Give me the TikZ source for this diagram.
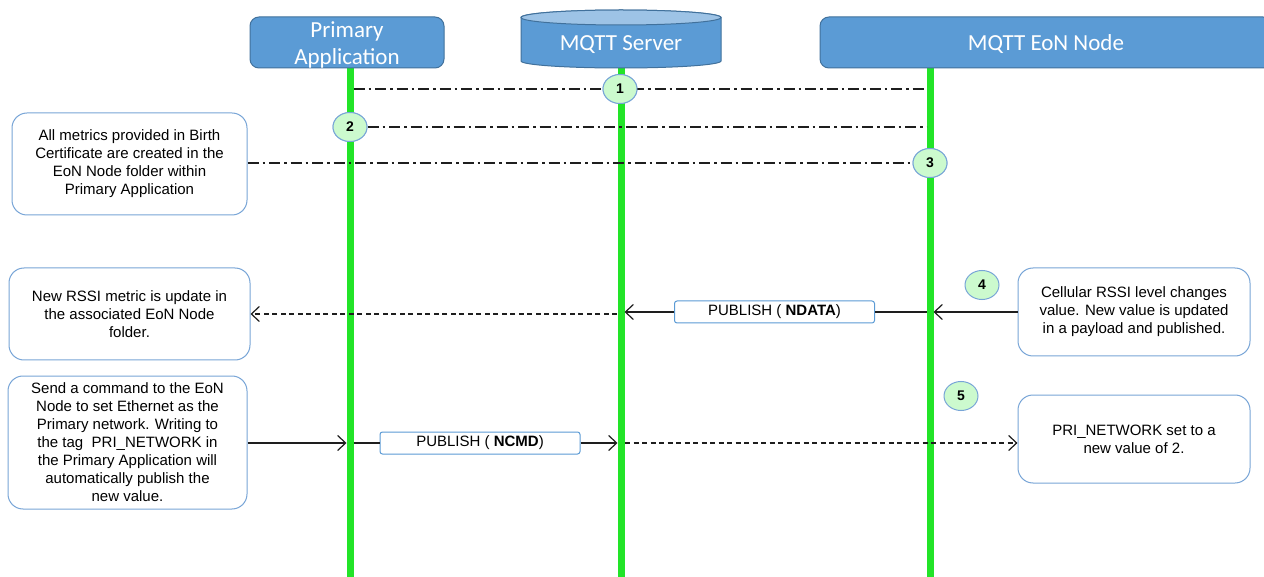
\documentclass[tikz,border=0pt]{standalone}
\usepackage{fontspec}
\setmainfont{Liberation Sans}
\newfontfamily\hdrfont{Carlito}
\usetikzlibrary{arrows.meta,shapes.geometric,calc}

\definecolor{hdrblue}{RGB}{91,155,213}
\definecolor{hdredge}{RGB}{65,113,156}
\definecolor{hdrtop}{RGB}{157,195,230}
\definecolor{lifegreen}{RGB}{34,228,40}
\definecolor{noteedge}{RGB}{120,165,215}
\definecolor{stepfill}{RGB}{204,250,206}
\definecolor{ink}{RGB}{30,30,30}

\begin{document}
\begin{tikzpicture}[x=1pt,y=-1pt,
  header/.style={draw=hdredge, line width=1pt, fill=hdrblue, rounded corners=9pt,
    text=white, font=\hdrfont\fontsize{23}{27}\selectfont, align=center, inner sep=0pt},
  note/.style={draw=noteedge, line width=1pt, fill=white, rounded corners=15pt,
    align=center, font=\fontsize{15}{18}\selectfont, inner sep=0pt},
  msg/.style={draw=hdrblue, line width=1pt, fill=white, rounded corners=2.5pt,
    font=\fontsize{15}{18}\selectfont, inner sep=0pt, minimum width=200pt, minimum height=22pt},
  stepmark/.style={ellipse, draw=noteedge, line width=1pt, fill=stepfill,
    minimum width=34pt, minimum height=29pt, inner sep=0pt,
    font=\bfseries\fontsize{14}{14}\selectfont},
  life/.style={draw=lifegreen, line width=7pt},
  sync/.style={draw=ink, line width=1.2pt, dash pattern=on 11pt off 4pt on 2.5pt off 4pt},
  plain/.style={draw=ink, line width=1.2pt},
  call/.style={draw=ink, line width=1.2pt, -{Straight Barb[length=8pt,width=15pt]}},
  reply/.style={draw=ink, line width=1.2pt, dash pattern=on 5pt off 3.5pt,
    -{Straight Barb[length=8pt,width=15pt]}},
]
\fill[white] (0,0) rectangle (1264,577);
\useasboundingbox (0,0) rectangle (1264,577);

% lifelines
\coordinate (paTop) at (350,68);  \coordinate (paBot) at (350,577);
\coordinate (srvTop) at (621,68); \coordinate (srvBot) at (621,577);
\coordinate (eonTop) at (930,68); \coordinate (eonBot) at (930,577);
\draw[life] (paTop) -- (paBot);
\draw[life] (srvTop) -- (srvBot);
\draw[life] (eonTop) -- (eonBot);

% participants
\path[draw=hdredge, line width=1pt, fill=hdrblue, rounded corners=9pt]
  (250,17) rectangle (444,68);
\node[text=white, font=\hdrfont\fontsize{23}{27}\selectfont, align=center] (pa) at (347,45) {Primary\\Application};
\path[draw=hdredge, line width=1pt, fill=hdrblue, rounded corners=9pt]
  (820,17) rectangle (1272,68);
\node[text=white, font=\hdrfont\fontsize{23}{27}\selectfont] (eon) at (1046,44) {MQTT EoN Node};
\path[draw=hdredge, line width=1pt, fill=hdrblue]
  (521,17.5) -- (521,61) arc[start angle=180, end angle=0, x radius=100, y radius=7]
  -- (721,17.5) arc[start angle=0, end angle=-180, x radius=100, y radius=7.5] -- cycle;
\path[draw=hdredge, line width=1pt, fill=hdrtop] (621,17.5) ellipse[x radius=100, y radius=7.5];
\node[text=white, font=\hdrfont\fontsize{23}{27}\selectfont] (srv) at (621,45) {MQTT Server};

% notes
\node[note, minimum width=235pt, minimum height=102pt] (birth) at (129.5,164)
  {All metrics provided in Birth\\Certificate are created in the\\EoN Node folder within\\Primary Application};
\node[note, minimum width=241pt, minimum height=92pt] (rssi) at (129.5,314)
  {New RSSI metric is update in\\the associated EoN Node\\folder.};
\node[note, minimum width=239pt, minimum height=133pt] (cmd) at (127.5,442.5)
  {Send a command to the EoN\\Node to set Ethernet as the\\Primary network. Writing to\\the tag\ \ PRI\_NETWORK in\\the Primary Application will\\automatically publish the\\new value.};
\node[note, minimum width=232pt, minimum height=88pt] (cell) at (1134,312)
  {Cellular RSSI level changes\\value. New value is updated\\in a payload and published.};
\node[note, minimum width=232pt, minimum height=88pt] (prinet) at (1134,439)
  {PRI\_NETWORK set to a\\new value of 2.};

% step markers (placed first so connectors can refer to them)
\node[stepmark] (s1) at (620,89) {1};
\node[stepmark] (s2) at (350,127) {2};
\node[stepmark] (s3) at (930,163) {3};
\node[stepmark] (s4) at (982,285) {4};
\node[stepmark] (s5) at (961,396) {5};

% birth sequence
\draw[sync] ($(paTop |- s1)+(3.5,0)$) -- ($(eonTop |- s1)+(-3.5,0)$);
\draw[sync] (s2.east) -- ($(eonTop |- s2)+(-3.5,0)$);
\draw[sync] (birth.east |- s3) -- (s3.west);

% NDATA
\node[msg] (ndata) at (774.5,312) {PUBLISH ( \textbf{NDATA})};
\draw[call] (cell.west |- ndata) -- ($(eonTop |- ndata)+(3.5,0)$);
\draw[plain] ($(eonTop |- ndata)+(-3.5,0)$) -- (ndata.east);
\draw[call] (ndata.west) -- ($(srvTop |- ndata)+(3.5,0)$);
\draw[reply] ($(srvTop |- rssi.east)+(-4,0)$) -- (rssi.east);

% NCMD
\node[msg] (ncmd) at (480,443) {PUBLISH ( \textbf{NCMD})};
\draw[call] (cmd.east |- ncmd) -- ($(paTop |- ncmd)+(-3.5,0)$);
\draw[plain] ($(paTop |- ncmd)+(3.5,0)$) -- (ncmd.west);
\draw[call] (ncmd.east) -- ($(srvTop |- ncmd)+(-3.5,0)$);
\draw[reply] ($(srvTop |- ncmd)+(4,0)$) -- (prinet.west |- ncmd);

% redraw markers above the connectors
\node[stepmark] at (s1) {1};
\node[stepmark] at (s2) {2};
\node[stepmark] at (s3) {3};
\end{tikzpicture}
\end{document}
